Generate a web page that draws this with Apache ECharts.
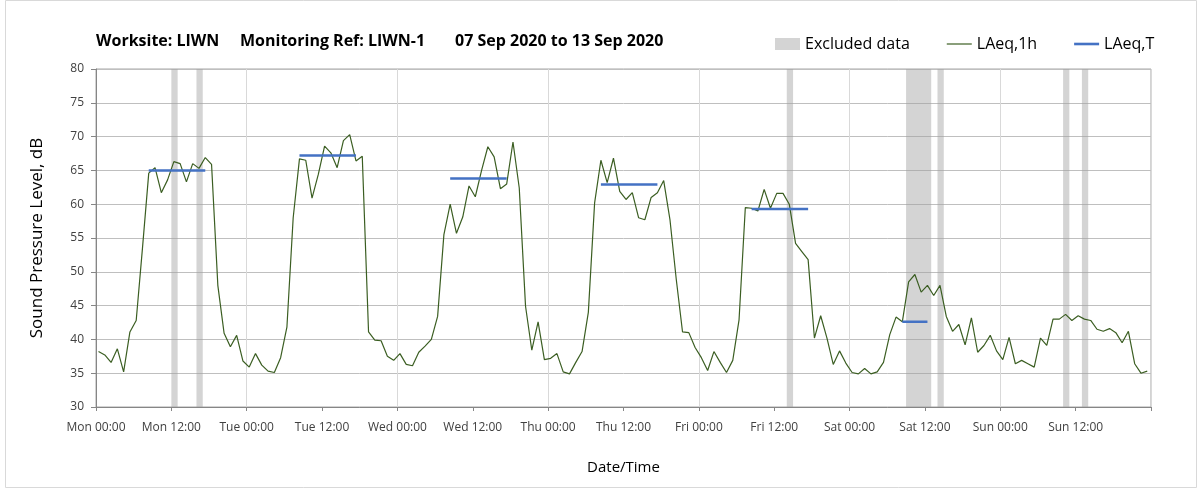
<!DOCTYPE html>
<html>
<head>
<meta charset="utf-8">
<script src="https://cdn.jsdelivr.net/npm/echarts@6/dist/echarts.min.js"></script>
<style>
html, body { margin: 0; padding: 0; background: #fff; }
#chart1 { width: 1203px; height: 499px; }
</style>
</head>
<body>
<div id="chart1"></div>
<script>
// tick labels every 12 hours, last one (next Mon 00:00) left blank
var tickLabels = ['Mon 00:00', 'Mon 12:00', 'Tue 00:00', 'Tue 12:00', 'Wed 00:00', 'Wed 12:00',
    'Thu 00:00', 'Thu 12:00', 'Fri 00:00', 'Fri 12:00', 'Sat 00:00', 'Sat 12:00',
    'Sun 00:00', 'Sun 12:00', ''];

// hourly LAeq,1h from Mon 00:00 (dB)
var laeq1h = [
    38.2, 37.7, 36.6, 38.6, 35.2, 41.1, 42.8, 53.5, 64.6, 65.4, 61.7, 63.6,
    66.3, 66.0, 63.3, 66.0, 65.3, 66.9, 65.9, 48.0, 40.9, 38.9, 40.6, 36.8,
    35.9, 37.9, 36.2, 35.3, 35.1, 37.3, 41.8, 58.0, 66.7, 66.5, 60.9, 64.4,
    68.6, 67.6, 65.4, 69.4, 70.3, 66.4, 67.1, 41.1, 39.9, 39.8, 37.5, 36.9,
    37.9, 36.3, 36.1, 38.1, 39.0, 40.0, 43.4, 55.5, 60.0, 55.7, 58.1, 62.7,
    61.1, 65.0, 68.5, 67.0, 62.3, 63.0, 69.2, 62.4, 44.9, 38.4, 42.6, 37.0,
    37.2, 37.9, 35.2, 34.9, 36.6, 38.2, 44.0, 60.2, 66.5, 63.2, 66.8, 61.9,
    60.7, 61.7, 58.0, 57.7, 61.0, 61.7, 63.5, 57.7, 48.9, 41.1, 41.0, 38.8,
    37.3, 35.4, 38.2, 36.6, 35.1, 36.9, 42.9, 59.5, 59.4, 59.0, 62.2, 59.4,
    61.6, 61.6, 60.0, 54.2, 53.0, 51.8, 40.2, 43.5, 40.2, 36.3, 38.3, 36.5,
    35.1, 34.9, 35.7, 34.9, 35.2, 36.6, 40.7, 43.3, 42.6, 48.5, 49.6, 47.0,
    48.0, 46.5, 48.0, 43.4, 41.2, 42.2, 39.2, 43.2, 38.1, 39.1, 40.6, 38.3,
    37.0, 40.3, 36.4, 36.9, 36.4, 35.9, 40.2, 39.1, 43.0, 43.0, 43.7, 42.8,
    43.5, 43.0, 42.8, 41.5, 41.2, 41.6, 41.0, 39.5, 41.2, 36.4, 35.0, 35.3
];

// LAeq,T for each daytime period (hour index of first and last hour)
var laeqT = [65.0, 67.2, 63.8, 62.9, 59.3, 42.6];
var periodStart = [8, 32, 56, 80, 104, 128];
var periodEnd = [17, 41, 65, 89, 113, 132];

// excluded hours (start, end)
var excludedStart = [12, 16, 110, 129, 134, 154, 157];
var excludedEnd = [13, 17, 111, 133, 135, 155, 158];

var yMin = 30, yMax = 80;
var fontName = 'Open Sans';

var hourData = laeq1h.map(function (v, i) {
    return [i + 0.4, v];
});
var periodData = [];
for (var i = 0; i < laeqT.length; i++) {
    periodData.push([periodStart[i] + 0.4, laeqT[i]]);
    periodData.push([periodEnd[i] + 0.4, laeqT[i]]);
    periodData.push([periodEnd[i] + 1, '-']);
}
var excludedData = excludedStart.map(function (s, i) {
    return [s, excludedEnd[i]];
});

var option = {
    animation: false,
    textStyle: { fontFamily: fontName },
    graphic: [{
        type: 'rect',
        shape: { x: 5.5, y: 0.5, width: 1191, height: 487 },
        style: { fill: 'none', stroke: '#d9d9d9', lineWidth: 1 },
        silent: true
    }],
    title: [
        { text: 'Worksite: LIWN', left: 96, top: 33 },
        { text: 'Monitoring Ref: LIWN-1', left: 240, top: 33 },
        { text: '07 Sep 2020 to 13 Sep 2020', left: 455, top: 33 }
    ].map(function (t) {
        t.padding = 0;
        t.textStyle = { fontFamily: fontName, fontSize: 16, fontWeight: 'bold', color: '#000' };
        return t;
    }),
    legend: {
        left: 775,
        top: 36,
        padding: 0,
        itemWidth: 25,
        itemHeight: 12,
        itemGap: 37,
        textStyle: { fontFamily: fontName, fontSize: 16, color: '#000' },
        data: [
            { name: 'Excluded data', icon: 'rect', itemStyle: { color: '#d4d4d4' } },
            { name: 'LAeq,1h', icon: 'path://M0,0H25V1.2H0Z', itemStyle: { color: '#3b5e22' } },
            { name: 'LAeq,T', icon: 'path://M0,0H25V2.6H0Z', itemStyle: { color: '#4472c4' } }
        ]
    },
    grid: {
        left: 96,
        right: 52,
        top: 69,
        bottom: 92,
        show: true,
        borderColor: '#a6a6a6',
        borderWidth: 1
    },
    xAxis: [{
        type: 'value',
        min: 0,
        max: 168,
        interval: 12,
        name: 'Date/Time',
        nameLocation: 'middle',
        nameGap: 53,
        nameTextStyle: { fontSize: 15, color: '#000' },
        axisLine: { lineStyle: { color: '#868686' } },
        axisTick: { show: true, length: 4, lineStyle: { color: '#868686' } },
        axisLabel: {
            fontSize: 12,
            color: '#404040',
            margin: 15,
            formatter: function (v) {
                return tickLabels[Math.round(v / 12)];
            }
        },
        splitLine: { show: false }
    }, {
        type: 'value',
        min: 0,
        max: 168,
        interval: 24,
        axisLine: { show: false },
        axisTick: { show: false },
        axisLabel: { show: false },
        splitLine: { show: true, lineStyle: { color: '#d9d9d9', width: 1 } }
    }],
    yAxis: {
        type: 'value',
        min: yMin,
        max: yMax,
        interval: 5,
        name: 'Sound Pressure Level, dB',
        nameLocation: 'middle',
        nameGap: 50,
        nameTextStyle: { fontSize: 17, color: '#000' },
        axisLine: { show: true, lineStyle: { color: '#868686' } },
        axisTick: { show: true, length: 5, lineStyle: { color: '#868686' } },
        axisLabel: { fontSize: 12, color: '#404040', margin: 12 },
        splitLine: { lineStyle: { color: '#bfbfbf', width: 1 } }
    },
    series: [{
        name: 'Excluded data',
        type: 'custom',
        xAxisIndex: 0,
        z: 1,
        encode: { x: [0, 1] },
        itemStyle: { color: 'rgba(160,160,160,0.45)' },
        renderItem: function (params, api) {
            var p1 = api.coord([api.value(0), yMax]);
            var p2 = api.coord([api.value(1), yMin]);
            return {
                type: 'rect',
                shape: { x: p1[0], y: p1[1], width: p2[0] - p1[0], height: p2[1] - p1[1] },
                style: { fill: 'rgba(160,160,160,0.45)' }
            };
        },
        data: excludedData
    }, {
        name: 'LAeq,1h',
        type: 'line',
        xAxisIndex: 0,
        z: 3,
        symbol: 'none',
        itemStyle: { color: '#3b5e22' },
        lineStyle: { color: '#3b5e22', width: 1.2 },
        data: hourData
    }, {
        name: 'LAeq,T',
        type: 'line',
        xAxisIndex: 0,
        z: 4,
        symbol: 'none',
        connectNulls: false,
        itemStyle: { color: '#4472c4' },
        lineStyle: { color: '#4472c4', width: 2.5 },
        data: periodData
    }]
};

var chart = echarts.init(document.getElementById('chart1'));
chart.setOption(option);
</script>
</body>
</html>
